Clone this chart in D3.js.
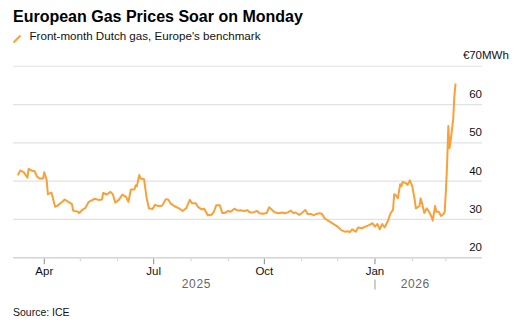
<!DOCTYPE html>
<html><head><meta charset="utf-8">
<script src="https://cdn.jsdelivr.net/npm/d3@7"></script>
<style>
body{margin:0;background:#fff;}
text{font-family:"Liberation Sans",Arial,sans-serif;}
</style>
</head><body>
<svg id="c" width="522" height="329"></svg>
<script>
const title = "European Gas Prices Soar on Monday";
const legendLabel = "Front-month Dutch gas, Europe's benchmark";
const source = "Source: ICE";
const unitLabel = ["€", "70", "MWh"];
const yTicks = [20, 30, 40, 50, 60, 70];
const majorMonthLabels = {3: "Apr", 6: "Jul", 9: "Oct", 0: "Jan"};
const years = [2025, 2026];
const xDomain = ["2025-03-06", "2026-03-31"];
const dates = [
"2025-03-10","2025-03-12","2025-03-15","2025-03-18","2025-03-19","2025-03-22","2025-03-24","2025-03-26","2025-03-28","2025-03-31",
"2025-04-01","2025-04-03","2025-04-04","2025-04-07","2025-04-10","2025-04-12","2025-04-16","2025-04-18","2025-04-21","2025-04-24",
"2025-04-25","2025-04-29","2025-04-30","2025-05-03","2025-05-05","2025-05-08","2025-05-10","2025-05-13","2025-05-16","2025-05-19",
"2025-05-20","2025-05-23","2025-05-26","2025-05-28","2025-05-30","2025-06-02","2025-06-05","2025-06-08","2025-06-10","2025-06-12",
"2025-06-15","2025-06-16","2025-06-17","2025-06-19","2025-06-20","2025-06-23","2025-06-25","2025-06-27","2025-06-30","2025-07-02",
"2025-07-05","2025-07-08","2025-07-11","2025-07-13","2025-07-15","2025-07-18","2025-07-22","2025-07-25","2025-07-28","2025-07-31",
"2025-08-02","2025-08-05","2025-08-07","2025-08-10","2025-08-12","2025-08-15","2025-08-18","2025-08-20","2025-08-22","2025-08-25",
"2025-08-27","2025-08-29","2025-09-01","2025-09-03","2025-09-06","2025-09-09","2025-09-11","2025-09-14","2025-09-17","2025-09-19",
"2025-09-22","2025-09-25","2025-09-27","2025-09-30","2025-10-03","2025-10-05","2025-10-08","2025-10-10","2025-10-13","2025-10-16",
"2025-10-18","2025-10-21","2025-10-23","2025-10-25","2025-10-27","2025-10-30","2025-11-01","2025-11-04","2025-11-06","2025-11-09",
"2025-11-11","2025-11-13","2025-11-16","2025-11-18","2025-11-20","2025-11-24","2025-11-28","2025-12-01","2025-12-04","2025-12-07",
"2025-12-09","2025-12-11","2025-12-13","2025-12-16","2025-12-18","2025-12-21","2025-12-24","2025-12-27","2025-12-30","2026-01-01",
"2026-01-03","2026-01-05","2026-01-07","2026-01-09","2026-01-12","2026-01-14","2026-01-16","2026-01-17","2026-01-19","2026-01-20",
"2026-01-22","2026-01-23","2026-01-24","2026-01-27","2026-01-28","2026-01-30","2026-02-01","2026-02-03","2026-02-04","2026-02-07",
"2026-02-08","2026-02-09","2026-02-11","2026-02-13","2026-02-15","2026-02-17","2026-02-18","2026-02-20","2026-02-21","2026-02-23",
"2026-02-25","2026-02-27","2026-02-28","2026-03-01","2026-03-02","2026-03-03","2026-03-04","2026-03-05","2026-03-07","2026-03-08",
"2026-03-09"
];
const prices = [
41.5,42.8,42.3,40.9,43.2,42.7,42.6,41.2,40.7,40.7,
42.3,40.3,36.6,37.0,33.3,33.6,34.6,35.2,34.6,34.0,
32.3,32.0,31.7,32.6,32.9,34.6,34.9,35.4,35.1,35.2,
36.9,36.5,37.2,36.6,34.4,35.1,36.5,35.9,34.6,37.8,
37.8,38.9,38.7,41.6,40.7,40.5,35.8,32.9,32.7,33.8,
33.5,33.6,35.3,35.2,34.2,33.5,32.9,32.2,32.9,35.1,
34.2,34.2,33.2,32.6,32.8,31.1,31.2,32.0,33.7,33.7,
31.7,31.7,32.2,32.0,32.8,32.3,32.4,32.2,32.4,31.8,
31.9,32.2,31.6,31.5,31.7,33.2,32.3,31.8,31.6,31.8,
31.6,31.9,32.3,31.7,31.8,31.2,31.6,32.5,31.4,31.4,
31.1,31.4,31.6,31.4,30.3,29.5,28.7,28.1,27.2,26.8,
26.9,26.7,27.4,26.8,27.9,27.7,28.1,28.5,29.0,28.1,
28.8,27.4,28.8,27.9,29.8,31.6,32.5,36.6,36.1,35.5,
39.2,38.7,39.8,39.4,39.0,40.2,38.7,35.2,32.9,33.5,
35.5,34.4,31.7,32.9,32.0,30.7,29.7,33.5,32.0,32.0,
30.9,31.4,32.0,37.7,44.6,54.4,48.6,50.7,56.0,62.0,
65.5
];

const parse = d3.timeParse("%Y-%m-%d");
const data = dates.map((d, i) => ({date: parse(d), value: prices[i]}));

const svg = d3.select("#c");
const plotLeft = 13, plotRight = 482, plotTop = 66.3, plotBottom = 257.7;

const x = d3.scaleTime().domain(xDomain.map(parse)).range([plotLeft, plotRight]);
const y = d3.scaleLinear().domain([20, 70]).range([plotBottom, plotTop]);

// Title
svg.append("text").attr("x", 13).attr("y", 22).attr("font-size", 16).attr("font-weight", "bold")
  .attr("fill", "#000").text(title);
// Legend
svg.append("line").attr("x1", 13.5).attr("y1", 42.5).attr("x2", 20.5).attr("y2", 35.5)
  .attr("stroke", "#f9a038").attr("stroke-width", 2);
svg.append("text").attr("x", 29.5).attr("y", 39.5).attr("font-size", 11.6).attr("fill", "#111").text(legendLabel);

// Gridlines
svg.append("g").selectAll("line").data(yTicks).join("line")
  .attr("x1", plotLeft).attr("x2", plotRight)
  .attr("y1", d => y(d)).attr("y2", d => y(d))
  .attr("stroke", d => d === 20 ? "#d4d4d4" : "#e2e2e2")
  .attr("stroke-width", d => d === 20 ? 1.6 : 1.1);

// Y labels
const yl = svg.append("g").attr("font-size", 11.5).attr("fill", "#111");
yTicks.filter(d => d !== 70).forEach(d => {
  yl.append("text").attr("x", plotRight).attr("y", y(d) - 6.5).attr("text-anchor", "end").text(d);
});
yl.append("text").attr("x", plotRight - 12.5).attr("y", y(70) - 7.5).attr("text-anchor", "end").text(unitLabel[0]);
yl.append("text").attr("x", plotRight).attr("y", y(70) - 7.5).attr("text-anchor", "end").text(unitLabel[1]);
yl.append("text").attr("x", plotRight).attr("y", y(70) - 7.5).attr("text-anchor", "start").text(unitLabel[2]);

// X ticks
const months = d3.timeMonth.range(parse("2025-04-01"), parse("2026-03-02"));
const xt = svg.append("g");
months.forEach(m => {
  const major = majorMonthLabels[m.getMonth()] !== undefined;
  xt.append("line").attr("x1", x(m)).attr("x2", x(m))
    .attr("y1", plotBottom + 1).attr("y2", plotBottom + (major ? 6.5 : 3.5))
    .attr("stroke", major ? "#888" : "#cfcfcf").attr("stroke-width", 1);
  if (major) {
    xt.append("text").attr("x", x(m)).attr("y", 274.5).attr("text-anchor", "middle")
      .attr("font-size", 11.5).attr("fill", "#111").text(majorMonthLabels[m.getMonth()]);
  }
});
// Year labels
const dMin = data[0].date, dMax = data[data.length - 1].date;
years.forEach(yr => {
  const a = d3.max([dMin, new Date(yr, 0, 1)]);
  const b = d3.min([dMax, new Date(yr + 1, 0, 1)]);
  svg.append("text").attr("x", (x(a) + x(b)) / 2).attr("y", 287.5).attr("text-anchor", "middle")
    .attr("font-size", 12).attr("letter-spacing", 0.6).attr("fill", "#666").text(yr);
});
const jan = new Date(2026, 0, 1);
svg.append("line").attr("x1", x(jan)).attr("x2", x(jan)).attr("y1", 279.5).attr("y2", 289.5)
  .attr("stroke", "#999").attr("stroke-width", 1);

// Line
svg.append("path").datum(data)
  .attr("fill", "none").attr("stroke", "#f9a038").attr("stroke-width", 2)
  .attr("stroke-linejoin", "round")
  .attr("d", d3.line().x(d => x(d.date)).y(d => y(d.value)));

// Source
svg.append("text").attr("x", 13).attr("y", 315.5).attr("font-size", 10.5).attr("fill", "#111").text(source);
</script>
</body></html>
